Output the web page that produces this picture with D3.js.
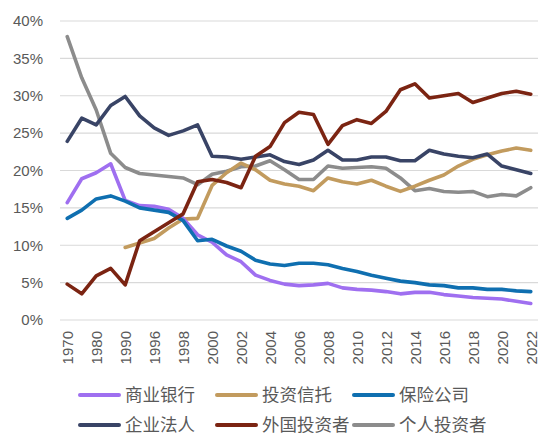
<!DOCTYPE html>
<html>
<head>
<meta charset="utf-8">
<script src="https://cdn.jsdelivr.net/npm/d3@7"></script>
<style>
  body { margin: 0; background: #fff; }
  text { font-family: "Noto Sans CJK SC", "Noto Sans", sans-serif; }
  .tick text { font-family: "Liberation Sans", Arial, sans-serif; }
</style>
</head>
<body>
<div id="chart"></div>
<script>
const years = ['1970', '1975', '1980', '1985', '1990', '1995', '1996', '1997', '1998', '1999',
  '2000', '2001', '2002', '2003', '2004', '2005', '2006', '2007', '2008', '2009', '2010',
  '2011', '2012', '2013', '2014', '2015', '2016', '2017', '2018', '2019', '2020', '2021', '2022'];

// 每个系列的持股比例 (%)
const banks = [15.7, 18.9, 19.7, 20.9, 16.0, 15.3, 15.2, 14.8, 13.6, 11.4,
  10.4, 8.7, 7.8, 6.0, 5.3, 4.8, 4.6, 4.7, 4.9, 4.3, 4.1,
  4.0, 3.8, 3.5, 3.7, 3.7, 3.4, 3.2, 3.0, 2.9, 2.8, 2.5, 2.2];
const trusts = [null, null, null, null, 9.7, 10.3, 10.9, 12.3, 13.5, 13.6,
  18.0, 19.7, 21.0, 20.1, 18.7, 18.2, 17.9, 17.3, 19.0, 18.5, 18.2,
  18.7, 17.9, 17.2, 17.9, 18.7, 19.4, 20.6, 21.5, 22.1, 22.6, 23.0, 22.7];
const insurers = [13.6, 14.7, 16.2, 16.6, 15.9, 15.0, 14.7, 14.4, 13.3, 10.6,
  10.8, 9.9, 9.2, 8.0, 7.5, 7.3, 7.6, 7.6, 7.4, 6.9, 6.5,
  6.0, 5.6, 5.2, 5.0, 4.7, 4.6, 4.3, 4.3, 4.1, 4.1, 3.9, 3.8];
const corporates = [23.9, 27.0, 26.1, 28.7, 29.9, 27.3, 25.7, 24.7, 25.3, 26.1,
  21.9, 21.8, 21.5, 21.8, 22.1, 21.2, 20.8, 21.4, 22.7, 21.4, 21.4,
  21.8, 21.8, 21.3, 21.3, 22.7, 22.2, 21.9, 21.7, 22.2, 20.6, 20.1, 19.6];
const foreigners = [4.8, 3.5, 5.9, 6.9, 4.7, 10.6, 11.8, 13.0, 14.2, 18.5,
  18.8, 18.4, 17.7, 21.9, 23.2, 26.4, 27.8, 27.5, 23.5, 26.0, 26.8,
  26.3, 27.9, 30.8, 31.6, 29.7, 30.0, 30.3, 29.1, 29.7, 30.3, 30.6, 30.2];
const individuals = [37.9, 32.4, 28.1, 22.3, 20.4, 19.6, 19.4, 19.2, 19.0, 18.1,
  19.5, 19.9, 20.5, 20.6, 21.3, 20.1, 18.8, 18.8, 20.6, 20.3, 20.4,
  20.5, 20.3, 19.0, 17.3, 17.6, 17.2, 17.1, 17.2, 16.5, 16.8, 16.6, 17.7];
const yTicks = [0, 5, 10, 15, 20, 25, 30, 35, 40];

const series = [
  { name: '个人投资者', values: individuals, color: '#8c8c8c' },
  { name: '投资信托', values: trusts, color: '#c29b5e' },
  { name: '企业法人', values: corporates, color: '#394466' },
  { name: '商业银行', values: banks, color: '#9f6ff0' },
  { name: '保险公司', values: insurers, color: '#0f6fb0' },
  { name: '外国投资者', values: foreigners, color: '#7b2412' }
];
const legendOrder = ['商业银行', '投资信托', '保险公司', '企业法人', '外国投资者', '个人投资者'];

const width = 560, height = 448;
const margin = { top: 21, right: 22, bottom: 128, left: 60 };

const svg = d3.select('#chart')
  .append('svg')
  .attr('width', width)
  .attr('height', height);

const x = d3.scalePoint()
  .domain(years)
  .range([margin.left, width - margin.right])
  .padding(0.5);

const y = d3.scaleLinear()
  .domain([0, 40])
  .range([height - margin.bottom, margin.top]);

// 网格线
svg.append('g')
  .selectAll('line')
  .data(yTicks)
  .enter()
  .append('line')
  .attr('x1', margin.left)
  .attr('x2', width - margin.right)
  .attr('y1', d => y(d))
  .attr('y2', d => y(d))
  .attr('stroke', '#d9d9d9')
  .attr('stroke-width', 1.2);

// y 轴
const yAxis = svg.append('g')
  .attr('transform', `translate(${margin.left - 17},0)`)
  .call(d3.axisLeft(y).tickValues(yTicks).tickFormat(d => d + '%').tickSize(0));
yAxis.select('.domain').remove();
yAxis.selectAll('text')
  .attr('fill', '#595959')
  .attr('x', 0)
  .style('font-size', '15px');

// x 轴
const xAxis = svg.append('g')
  .attr('transform', `translate(0,${height - margin.bottom})`)
  .call(d3.axisBottom(x).tickValues(years.filter((d, i) => i % 2 === 0)).tickSize(0));
xAxis.select('.domain').remove();
xAxis.selectAll('text')
  .attr('fill', '#595959')
  .style('font-size', '15px')
  .attr('transform', 'rotate(-90)')
  .attr('text-anchor', 'end')
  .attr('x', -11)
  .attr('y', 0)
  .attr('dy', '0.38em');

const line = d3.line()
  .defined(d => d != null)
  .x((d, i) => x(years[i]))
  .y(d => y(d));

svg.append('g')
  .selectAll('path')
  .data(series)
  .enter()
  .append('path')
  .attr('d', d => line(d.values))
  .attr('fill', 'none')
  .attr('stroke', d => d.color)
  .attr('stroke-width', 3.6)
  .attr('stroke-linejoin', 'round')
  .attr('stroke-linecap', 'round');

// 图例
const legend = svg.append('g')
  .selectAll('g')
  .data(legendOrder.map(n => series.find(s => s.name === n)))
  .enter()
  .append('g')
  .attr('transform', (d, i) => `translate(${80 + (i % 3) * 137},${395 + Math.floor(i / 3) * 30})`);

legend.append('line')
  .attr('x1', 0)
  .attr('x2', 39)
  .attr('stroke', d => d.color)
  .attr('stroke-width', 4)
  .attr('stroke-linecap', 'round');

legend.append('text')
  .attr('x', 45)
  .attr('dy', '0.36em')
  .attr('fill', '#595959')
  .style('font-size', '17.5px')
  .text(d => d.name);
</script>
</body>
</html>
